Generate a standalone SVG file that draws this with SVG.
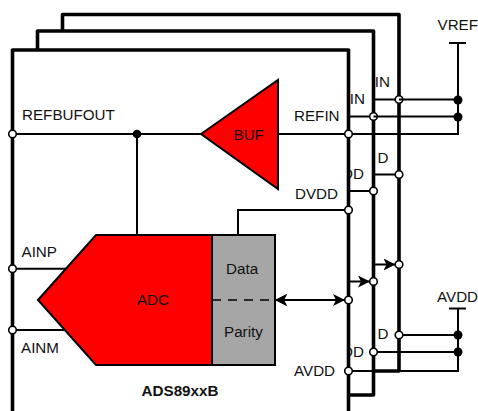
<svg xmlns="http://www.w3.org/2000/svg" width="478" height="411" viewBox="0 0 478 411">
<style>
text{font-family:"Liberation Sans",Arial,sans-serif;font-size:15.2px;fill:#111}
.b{font-weight:bold}
.e{text-anchor:end}
.m{text-anchor:middle}
.wall{fill:#fff;stroke:#000;stroke-width:3.6;stroke-linejoin:round}
.shape{stroke:#000;stroke-width:2;stroke-linejoin:miter}
.c{fill:none;stroke:#000;stroke-width:2}
.pin{fill:#fff;stroke:#000;stroke-width:1.6}
.dot{fill:#000}
</style>
<defs>
<marker id="a" markerUnits="userSpaceOnUse" markerWidth="13" markerHeight="12" refX="12" refY="6" orient="auto-start-reverse"><path d="M0 0L12 6L0 12L3 6Z" fill="#000"/></marker>
</defs>
<g id="chip-back">
<path class="wall" d="M62.5 31V14.5H399V371H374"/>
<text class="e" x="390" y="86.5">IN</text>
<text class="e" x="388.500" y="162.500">D</text>
<text class="e" x="388.500" y="339">D</text>
</g>
<g id="chip-mid">
<path class="wall" d="M37.5 50V31H373.500V395H349"/>
<text class="e" x="365" y="104">IN</text>
<text class="e" x="364" y="178.500">DD</text>
<text class="e" x="364" y="356.500">DD</text>
</g>
<g id="chip-front">
<path class="wall" d="M12.500 411V50H348.500V411"/>
<text x="22" y="119.500">REFBUFOUT</text>
<text x="294" y="120.500">REFIN</text>
<text x="295" y="198.500">DVDD</text>
<text x="294" y="375.500">AVDD</text>
<text x="21.500" y="257">AINP</text>
<text x="21" y="352.500">AINM</text>
<text class="b m" x="180" y="395.500">ADS89xxB</text>
</g>
<g id="connectors">
<path class="c" d="M12.500 134H458V43"/>
<path class="c" d="M349 116.500H458"/>
<path class="c" d="M374 99.500H458"/>
<path class="c" d="M137 134V235"/>
<path class="c" d="M238 235V210H348.500"/>
<path class="c" d="M349 191H373.500"/>
<path class="c" d="M374 174.500H399"/>
<path class="c" d="M12.500 268.700H66"/>
<path class="c" d="M12.500 330H66"/>
<path class="c" d="M275 300H345" marker-start="url(#a)" marker-end="url(#a)"/>
<path class="c" d="M349 281.500H370" marker-end="url(#a)"/>
<path class="c" d="M374 264.500H395.500" marker-end="url(#a)"/>
<path class="c" d="M348.500 371H458V308.500"/>
<path class="c" d="M373.500 352H458"/>
<path class="c" d="M399 335H458"/>
</g>
<g id="pins">
<circle class="pin" cx="12.500" cy="134" r="3.800"/>
<circle class="pin" cx="12.500" cy="268.700" r="3.800"/>
<circle class="pin" cx="12.500" cy="330" r="3.800"/>
<circle class="pin" cx="348.500" cy="134" r="3.800"/>
<circle class="pin" cx="373.500" cy="116.500" r="3.800"/>
<circle class="pin" cx="399" cy="99.500" r="3.800"/>
<path class="c" d="M373.500 116.500H378M399 99.500H403"/>
<circle class="pin" cx="348.500" cy="210" r="3.800"/>
<circle class="pin" cx="373.500" cy="191" r="3.800"/>
<circle class="pin" cx="399" cy="174.500" r="3.800"/>
<circle class="pin" cx="348.500" cy="300" r="3.800"/>
<circle class="pin" cx="373.500" cy="281.500" r="3.800"/>
<circle class="pin" cx="399" cy="264.500" r="3.800"/>
<circle class="pin" cx="348.500" cy="371" r="3.800"/>
<circle class="pin" cx="373.500" cy="352" r="3.800"/>
<circle class="pin" cx="399" cy="335" r="3.800"/>
<circle class="dot" cx="137" cy="134" r="4.300"/>
</g>
<g id="vref">
<path class="c" d="M449 43H466"/>
<circle class="dot" cx="458" cy="100" r="4.500"/>
<circle class="dot" cx="458" cy="117" r="4.500"/>
<text x="437.500" y="30">VREF</text>
</g>
<g id="avdd">
<path class="c" d="M449 308.500H466"/>
<circle class="dot" cx="458" cy="335" r="4.500"/>
<circle class="dot" cx="458" cy="352" r="4.500"/>
<text x="437" y="301.500">AVDD</text>
</g>
<g id="buf">
<path class="shape" fill="#f00" d="M201 134L278 80V189Z"/>
<text x="233.500" y="140">BUF</text>
</g>
<g id="adc">
<path class="shape" fill="#f00" d="M38 300L96 235H212V365H96Z"/>
<text class="m" x="153" y="305">ADC</text>
</g>
<g id="data-parity">
<rect class="shape" fill="#a6a6a6" x="212" y="235" width="63" height="130"/>
<path d="M212 300H275" fill="none" stroke="#000" stroke-width="1.600" stroke-dasharray="9 7"/>
<text x="226" y="274">Data</text>
<text x="224" y="336.500">Parity</text>
</g>
<path d="M275 300L287 294L284 300L287 306Z" fill="#000"/>
</svg>
